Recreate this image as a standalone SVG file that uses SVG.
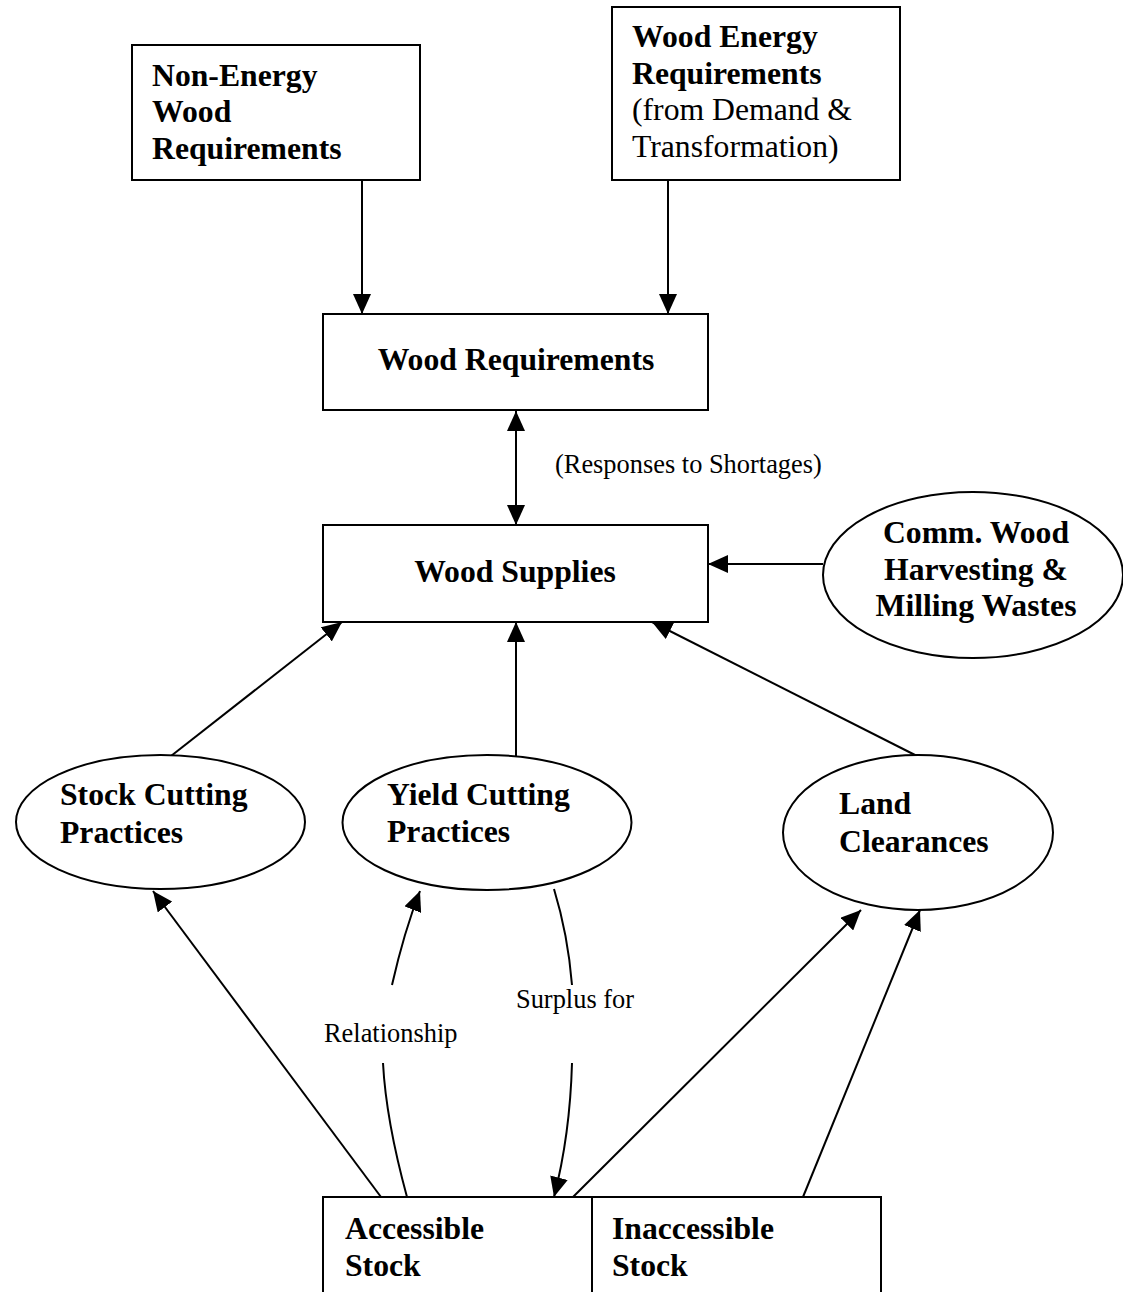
<svg xmlns="http://www.w3.org/2000/svg" width="1123" height="1292" viewBox="0 0 1123 1292">
<style>
.shape{fill:#fff;stroke:#000;stroke-width:2}
.open{fill:none;stroke:#000;stroke-width:2}
.b{font-family:"Liberation Serif","Times New Roman",serif;font-weight:bold;font-size:31.7px;fill:#000}
.r{font-family:"Liberation Serif","Times New Roman",serif;font-size:31.7px;fill:#000}
.s{font-family:"Liberation Serif","Times New Roman",serif;font-size:26.4px;fill:#000}
.c{text-anchor:middle}
.ln{fill:none;stroke:#000;stroke-width:2}
.arr{marker-end:url(#ah)}
.both{marker-start:url(#ah);marker-end:url(#ah)}
</style>
<defs>
<marker id="ah" markerUnits="userSpaceOnUse" markerWidth="20" markerHeight="18" refX="20" refY="9" orient="auto-start-reverse" viewBox="0 0 20 18">
<path d="M0,0 L20,9 L0,18 z" fill="#000"/>
</marker>
</defs>
<rect width="1123" height="1292" fill="#fff"/>

<g id="connectors">
<line class="ln arr" x1="362" y1="180" x2="362" y2="314"/>
<line class="ln arr" x1="668" y1="180" x2="668" y2="314"/>
<line class="ln both" x1="516" y1="411" x2="516" y2="525"/>
<line class="ln arr" x1="823" y1="564" x2="708" y2="564"/>
<line class="ln arr" x1="171" y1="756" x2="342" y2="622"/>
<line class="ln arr" x1="516" y1="756" x2="516" y2="622"/>
<line class="ln arr" x1="917" y1="756" x2="652" y2="622"/>
<line class="ln arr" x1="381" y1="1197" x2="153" y2="891"/>
<path class="ln" d="M407,1197 Q386,1120 383,1063"/>
<path class="ln arr" d="M392,985 Q404,932 420,891"/>
<path class="ln" d="M554,889 Q568,935 572,985"/>
<path class="ln arr" d="M572,1063 Q570,1135 554,1197"/>
<line class="ln arr" x1="573" y1="1197" x2="861" y2="910"/>
<line class="ln arr" x1="803" y1="1197" x2="920" y2="910"/>
<text class="s" x="555" y="473">(Responses to Shortages)</text>
<text class="s" x="324" y="1042">Relationship</text>
<text class="s" x="516" y="1008">Surplus for</text>
</g>

<g id="non-energy">
<rect class="shape" x="132" y="45" width="288" height="135"/>
<text class="b" x="152" y="86">Non-Energy</text>
<text class="b" x="152" y="122">Wood</text>
<text class="b" x="152" y="159">Requirements</text>
</g>

<g id="wood-energy">
<rect class="shape" x="612" y="7" width="288" height="173"/>
<text class="b" x="632" y="47">Wood Energy</text>
<text class="b" x="632" y="84">Requirements</text>
<text class="r" x="632" y="120">(from Demand &amp;</text>
<text class="r" x="632" y="157">Transformation)</text>
</g>

<g id="wood-requirements">
<rect class="shape" x="323" y="314" width="385" height="96"/>
<text class="b c" x="516" y="370">Wood Requirements</text>
</g>

<g id="wood-supplies">
<rect class="shape" x="323" y="525" width="385" height="97"/>
<text class="b c" x="515" y="582">Wood Supplies</text>
</g>

<g id="comm-wood">
<ellipse class="shape" cx="973" cy="575" rx="150" ry="83"/>
<text class="b c" x="976" y="543">Comm. Wood</text>
<text class="b c" x="976" y="580">Harvesting &amp;</text>
<text class="b c" x="976" y="616">Milling Wastes</text>
</g>

<g id="stock-cutting">
<ellipse class="shape" cx="160.5" cy="822" rx="144.5" ry="67"/>
<text class="b" x="60" y="805">Stock Cutting</text>
<text class="b" x="60" y="843">Practices</text>
</g>

<g id="yield-cutting">
<ellipse class="shape" cx="487" cy="822.5" rx="144.5" ry="67.5"/>
<text class="b" x="387" y="805">Yield Cutting</text>
<text class="b" x="387" y="842">Practices</text>
</g>

<g id="land-clearances">
<ellipse class="shape" cx="918" cy="832.5" rx="135" ry="77.5"/>
<text class="b" x="839" y="814">Land</text>
<text class="b" x="839" y="852">Clearances</text>
</g>

<g id="accessible-stock">
<path class="open" d="M323,1292 V1197 H592 V1292"/>
<text class="b" x="345" y="1239">Accessible</text>
<text class="b" x="345" y="1276">Stock</text>
</g>

<g id="inaccessible-stock">
<path class="open" d="M592,1292 V1197 H881 V1292"/>
<text class="b" x="612" y="1239">Inaccessible</text>
<text class="b" x="612" y="1276">Stock</text>
</g>
</svg>
